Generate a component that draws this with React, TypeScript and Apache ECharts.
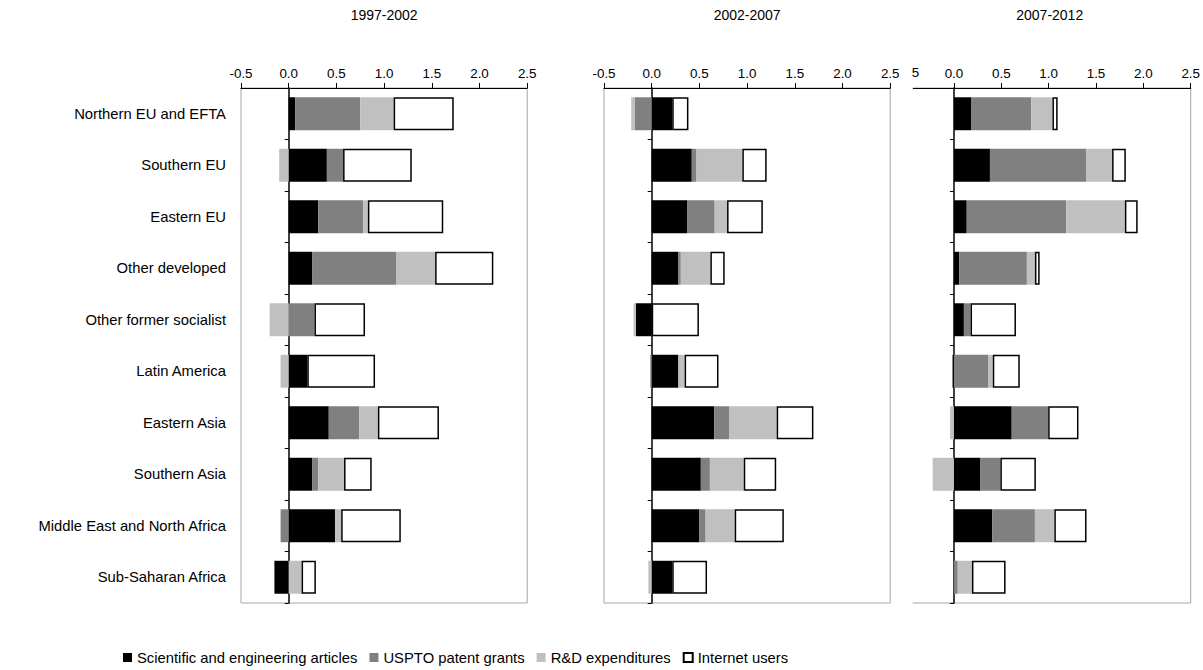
import React, { useEffect, useRef } from "react";
import * as echarts from "echarts";

const categories = [
  "Northern EU and EFTA",
  "Southern EU",
  "Eastern EU",
  "Other developed",
  "Other former socialist",
  "Latin America",
  "Eastern Asia",
  "Southern Asia",
  "Middle East and North Africa",
  "Sub-Saharan Africa",
];
const periods = ["1997-2002", "2002-2007", "2007-2012"];
const seriesNames = [
  "Scientific and engineering articles",
  "USPTO patent grants",
  "R&D expenditures",
  "Internet users",
];

// 1997-2002
const p1Articles = [0.07, 0.4, 0.31, 0.245, 0, 0.195, 0.42, 0.245, 0.485, -0.15];
const p1Patents = [0.68, 0.17, 0.47, 0.88, 0.27, 0, 0.32, 0.065, -0.085, 0];
const p1RD = [0.35, -0.1, 0.05, 0.41, -0.2, -0.085, 0.195, 0.27, 0.065, 0.135];
const p1Internet = [0.63, 0.72, 0.79, 0.61, 0.53, 0.71, 0.64, 0.29, 0.625, 0.15];

// 2002-2007
const p2Articles = [0.215, 0.42, 0.375, 0.28, -0.165, 0.28, 0.655, 0.515, 0.5, 0.215];
const p2Patents = [-0.18, 0.05, 0.285, 0.025, 0, -0.015, 0.16, 0.095, 0.065, 0];
const p2RD = [-0.035, 0.48, 0.13, 0.31, -0.025, 0.065, 0.495, 0.355, 0.305, -0.035];
const p2Internet = [0.17, 0.255, 0.375, 0.15, 0.495, 0.355, 0.385, 0.34, 0.515, 0.365];

// 2007-2012
const p3Articles = [0.18, 0.38, 0.135, 0.055, 0.105, -0.015, 0.61, 0.28, 0.405, 0];
const p3Patents = [0.635, 1.015, 1.05, 0.715, 0.07, 0.36, 0.385, 0.21, 0.45, 0.04];
const p3RD = [0.225, 0.275, 0.62, 0.085, 0, 0.05, -0.04, -0.225, 0.205, 0.15];
const p3Internet = [0.055, 0.145, 0.135, 0.05, 0.48, 0.285, 0.32, 0.375, 0.34, 0.355];

const xTicks = { min: -0.5, max: 2.5, interval: 0.5 };

const FONT = "'Liberation Sans', Arial, sans-serif";
const colors = ["#000000", "#808080", "#c0c0c0", "#ffffff"];

export default function App() {
  const ref = useRef<HTMLDivElement>(null);

  useEffect(() => {
    if (!ref.current) return;
    const chart = echarts.init(ref.current, undefined, { renderer: "svg" });

    const panels = [
      [p1Articles, p1Patents, p1RD, p1Internet],
      [p2Articles, p2Patents, p2RD, p2Internet],
      [p3Articles, p3Patents, p3RD, p3Internet],
    ];
    const lefts = [241, 604, 906.6];
    const width = 286.2;

    const grid = lefts.map((l) => ({
      left: l,
      top: 88,
      width,
      height: 515,
      show: true,
      borderColor: "#a6a6a6",
      borderWidth: 1,
      containLabel: false,
    }));

    const xAxis = lefts.map((_, i) => ({
      type: "value",
      gridIndex: i,
      position: "top",
      min: xTicks.min,
      max: xTicks.max,
      interval: xTicks.interval,
      axisLine: { show: true, onZero: false, lineStyle: { color: "#000", width: 1 } },
      axisTick: { show: true, length: 5, lineStyle: { color: "#000" } },
      axisLabel: {
        fontSize: 13.4,
        fontFamily: FONT,
        color: "#000",
        margin: 8,
        formatter: (v: number) => (i === 2 && v === -0.5 ? "" : v.toFixed(1)),
      },
      splitLine: { show: false },
    }));

    const yAxis: any[] = lefts.map((_, i) => ({
      type: "category",
      gridIndex: i,
      position: "left",
      data: categories,
      inverse: true,
      axisLine: { show: true, onZero: true, lineStyle: { color: "#000", width: 1.5 } },
      axisTick: { show: true, length: 4, lineStyle: { color: "#000" } },
      axisLabel: { show: false },
      splitLine: { show: false },
    }));
    yAxis.push({
      type: "category",
      gridIndex: 0,
      position: "left",
      data: categories,
      inverse: true,
      axisLine: { show: false, onZero: false },
      axisTick: { show: false },
      axisLabel: { fontSize: 14.8, fontFamily: FONT, color: "#000", margin: 15 },
      splitLine: { show: false },
    });

    const series: any[] = [];
    panels.forEach((arrs, i) => {
      arrs.forEach((data, k) => {
        series.push({
          type: "bar",
          name: seriesNames[k],
          xAxisIndex: i,
          yAxisIndex: i,
          stack: "panel" + i,
          barCategoryGap: "36%",
          data,
          itemStyle:
            k === 3
              ? { color: colors[k], borderColor: "#000", borderWidth: 1.5 }
              : { color: colors[k], borderWidth: 0 },
        });
      });
    });

    const graphic: any[] = periods.map((p, i) => ({
      type: "text",
      x: lefts[i] + width / 2,
      y: 14.5,
      style: {
        text: p,
        textAlign: "center",
        textVerticalAlign: "middle",
        font: `14px ${FONT}`,
        fill: "#000",
      },
    }));
    graphic.push({
      type: "rect",
      z: 100,
      shape: { x: 899.5, y: 80, width: 13.3, height: 530 },
      style: { fill: "#ffffff" },
    });
    graphic.push({
      type: "text",
      z: 100,
      x: 915.5,
      y: 72.5,
      style: {
        text: "5",
        textAlign: "center",
        textVerticalAlign: "middle",
        font: `13.4px ${FONT}`,
        fill: "#000",
      },
    });

    chart.setOption({
      animation: false,
      backgroundColor: "#ffffff",
      grid,
      xAxis,
      yAxis,
      series,
      graphic,
      legend: {
        data: seriesNames,
        left: 118,
        top: 645,
        itemWidth: 9,
        itemHeight: 9,
        itemGap: 12,
        icon: "rect",
        textStyle: { fontSize: 14.8, fontFamily: FONT, color: "#000" },
      },
    });

    return () => chart.dispose();
  }, []);

  return (
    <div
      ref={ref}
      style={{ position: "fixed", left: 0, top: 0, width: 1203, height: 670, background: "#fff" }}
    />
  );
}
